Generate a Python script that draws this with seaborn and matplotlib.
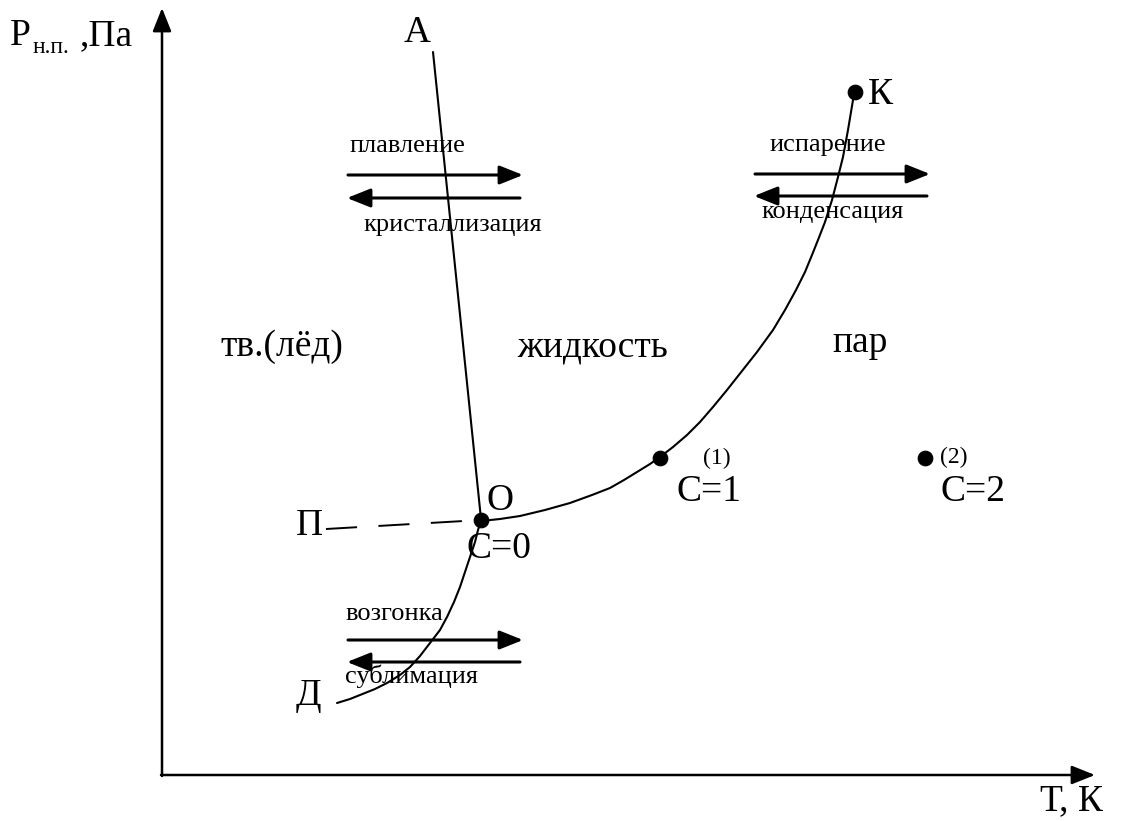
import pandas as pd
import matplotlib
matplotlib.use("Agg")
import matplotlib.pyplot as plt
import seaborn as sns

# Coordinates (x to the right, y downward)
# melting line O-A
melt_x = [481, 433]
melt_y = [519, 52]

# vaporisation line O-K
vap_x = [481, 500, 520, 545, 570, 592, 610, 624, 637, 650, 660, 673, 687, 700, 713, 727, 742,
         757, 773, 785, 796, 805, 812, 818, 825, 832, 838, 843, 848, 853, 855]
vap_y = [521, 519, 516, 510, 503, 495, 488, 480, 472, 464, 457, 447, 435, 422, 407, 390, 371,
         352, 330, 310, 290, 272, 255, 240, 222, 200, 177, 157, 130, 100, 92]

# sublimation line Д-O
sub_x = [337, 350, 360, 375, 387, 400, 410, 420, 430, 440, 447, 454, 460, 465, 470, 475, 478, 481]
sub_y = [703, 699, 695, 689, 683, 675, 667, 656, 643, 630, 617, 602, 587, 572, 557, 542, 530, 521]

# metastable (supercooled liquid) line O-П
meta_x = [326, 481]
meta_y = [529, 520]

# points
pt_names = ["O", "K", "1", "2"]
pt_x = [481, 855, 660, 925]
pt_y = [520, 92, 458, 458]

# process arrow pairs
proc_fwd = ["плавление", "испарение", "возгонка"]
proc_back = ["кристаллизация", "конденсация", "сублимация"]
proc_x0 = [348, 755, 348]
proc_x1 = [523, 930, 523]
proc_y_fwd = [175, 174, 640]
proc_y_back = [198, 196, 662]

sns.set_style("white")
plt.rcParams["font.family"] = ["Liberation Serif", "DejaVu Serif"]
plt.rcParams["text.color"] = "black"

fig = plt.figure(figsize=(11.47, 8.21), dpi=100)
ax = fig.add_axes([0, 0, 1, 1])
ax.set_xlim(0, 1147)
ax.set_ylim(821, 0)
ax.axis("off")

# axes with arrows
arrow_kw = dict(arrowstyle="-|>,head_length=0.95,head_width=0.38", color="black",
                lw=1.8, mutation_scale=15, shrinkA=0, shrinkB=0)
ax.annotate("", xy=(162, 8), xytext=(162, 776), arrowprops=arrow_kw)
ax.annotate("", xy=(1095, 775), xytext=(161, 775), arrowprops=arrow_kw)

lines = pd.DataFrame({
    "x": melt_x + vap_x + sub_x,
    "y": melt_y + vap_y + sub_y,
    "line": ["melt"] * len(melt_x) + ["vap"] * len(vap_x) + ["sub"] * len(sub_x),
})
sns.lineplot(data=lines, x="x", y="y", units="line", estimator=None, sort=False,
             color="black", lw=1.5, ax=ax)
sns.lineplot(x=meta_x, y=meta_y, sort=False, estimator=None, color="black",
             lw=1.4, ax=ax).lines[-1].set_dashes((16, 11))

pts = pd.DataFrame({"x": pt_x, "y": pt_y, "name": pt_names})
sns.scatterplot(data=pts, x="x", y="y", color="black", s=110, edgecolor="black",
                zorder=5, ax=ax, legend=False)

# process arrows
parr = dict(arrowstyle="-|>,head_length=0.95,head_width=0.38", color="black",
            lw=2.2, mutation_scale=15, shrinkA=0, shrinkB=0)
for i in range(len(proc_fwd)):
    ax.annotate("", xy=(proc_x1[i], proc_y_fwd[i]), xytext=(proc_x0[i], proc_y_fwd[i]), arrowprops=parr)
    ax.annotate("", xy=(proc_x0[i] - 1, proc_y_back[i]), xytext=(proc_x1[i] - 3, proc_y_back[i]), arrowprops=parr)

small = 19
ax.text(349, 152, proc_fwd[0], fontsize=small, ha="left", va="baseline")
ax.text(363, 231, proc_back[0], fontsize=small, ha="left", va="baseline")
ax.text(769, 151, proc_fwd[1], fontsize=small, ha="left", va="baseline")
ax.text(761, 218, proc_back[1], fontsize=small, ha="left", va="baseline")
ax.text(345, 620, proc_fwd[2], fontsize=small, ha="left", va="baseline")
ax.text(345, 683, proc_back[2], fontsize=small, ha="left", va="baseline")

big = 27
ax.text(404, 42, "А", fontsize=big, va="baseline")
ax.text(868, 104, "К", fontsize=big, va="baseline")
ax.text(487, 510, "О", fontsize=big, va="baseline")
ax.text(467, 558, "С=0", fontsize=big, va="baseline")
ax.text(296, 535, "П", fontsize=big, va="baseline")
ax.text(296, 705, "Д", fontsize=big, va="baseline")
ax.text(676, 501, "С=1", fontsize=big, va="baseline")
ax.text(940, 501, "С=2", fontsize=big, va="baseline")
ax.text(703, 464, "(1)", fontsize=17, va="baseline")
ax.text(940, 463, "(2)", fontsize=17, va="baseline")

ax.text(220, 356, "тв.(лёд)", fontsize=big, va="baseline")
ax.text(517, 356, "жидкость", fontsize=big, va="baseline")
ax.text(832, 352, "пар", fontsize=big, va="baseline")

ax.text(10, 45, "Р", fontsize=big, va="baseline")
ax.text(33, 53, "н.п.", fontsize=17, va="baseline")
ax.text(80, 45, ",Па", fontsize=big, va="baseline")
ax.text(1040, 810, "Т, К", fontsize=big, va="baseline")

fig.savefig("out.png", dpi=100, facecolor="white")
